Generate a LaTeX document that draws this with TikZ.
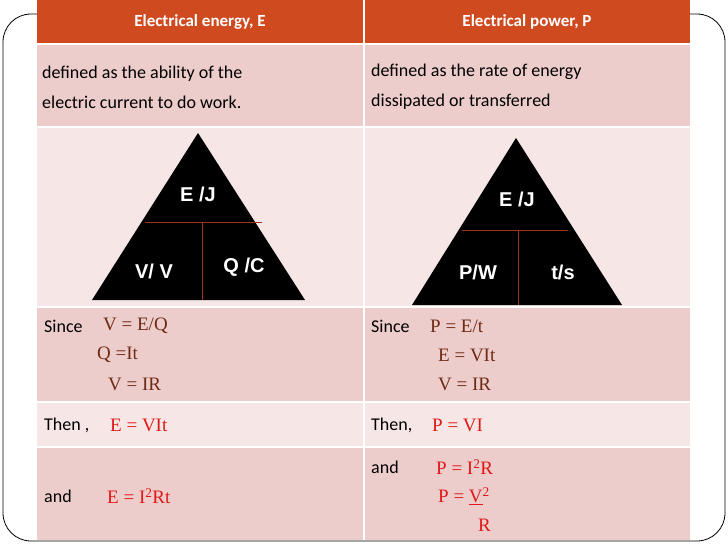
\documentclass[tikz,border=0pt]{standalone}
\usepackage{fontspec}
\setmainfont{Carlito}
\newfontfamily\tnr{Liberation Serif}
\newfontfamily\arl{Liberation Sans}
\definecolor{hdr}{HTML}{CF4A1F}
\definecolor{dk}{HTML}{EDCDCB}
\definecolor{lt}{HTML}{F6E7E6}
\definecolor{brn}{HTML}{6E2A14}
\definecolor{rd}{HTML}{E01818}
\definecolor{ln}{HTML}{A03020}
\begin{document}
\begin{tikzpicture}[x=1pt,y=-1pt,
  txt/.style={anchor=west,inner sep=0pt,font=\fontsize{18}{30}\selectfont,align=left},
  fm/.style={anchor=west,inner sep=0pt,font=\tnr\fontsize{19}{24}\selectfont},
  tri/.style={fill=black},
  tl/.style={text=white,font=\arl\bfseries\fontsize{20}{22}\selectfont,inner sep=0pt},
  sep/.style={draw=ln,line width=0.6pt}]
\useasboundingbox (0,0) rectangle (728,546);
\draw[line width=0.8pt,rounded corners=28] (3,14) rectangle (725,541);
% rows
\fill[hdr] (37,0) rectangle (690,44);
\fill[dk] (37,44) rectangle (690,127);
\fill[lt] (37,127) rectangle (690,307);
\fill[dk] (37,307) rectangle (690,402);
\fill[lt] (37,402) rectangle (690,447);
\fill[dk] (37,447) rectangle (690,540);
\foreach \y in {44,127,307,402,447} \draw[white,line width=1.2pt] (37,\y) -- (690,\y);
\draw[white,line width=1.2pt] (364,0) -- (364,540);
% header
\node[text=white,font=\bfseries\fontsize{17}{20}\selectfont] (h1) at (200,22) {Electrical energy, E};
\node[text=white,font=\bfseries\fontsize{17}{20}\selectfont] (h2) at (527,22) {Electrical power, P};
\node[txt] (d1) at (42,87) {defined as the ability of the\\electric current to do work.};
\node[txt] (d2) at (371,87) {defined as the rate of energy\\dissipated or transferred};
% triangles
\fill[tri] (198,133) -- (305,300) -- (92,300) -- cycle;
\draw[sep] (145,222) -- (262,222) (202,222) -- (202,300);
\node[tl] (e1) at (198,194) {E /J};
\node[tl] (v1) at (154,271) {V/ V};
\node[tl] (q1) at (244,267) {Q /C};
\fill[tri] (516,138) -- (622,305) -- (412,305) -- cycle;
\draw[sep] (462,230) -- (568,230) (518,230) -- (518,305);
\node[tl] (e2) at (517,199) {E /J};
\node[tl] (p2) at (478,272) {P/W};
\node[tl] (t2) at (563,272) {t/s};
% since rows
\node[txt] (s1) at (44,326) {Since};
\node[fm,text=brn] (s1a) at (103,326) {V = E/Q};
\node[fm,text=brn] (s1b) at (97,355) {Q =It};
\node[fm,text=brn] (s1c) at (108,384) {V = IR};
\node[txt] (s2) at (371,326) {Since};
\node[fm,text=brn] (s2a) at (430,326) {P = E/t};
\node[fm,text=brn] (s2b) at (438,355) {E = VIt};
\node[fm,text=brn] (s2c) at (438,384) {V = IR};
\node[txt] (t1) at (44,425) {Then ,};
\node[fm,text=rd] (t1a) at (110,425) {E = VIt};
\node[txt] (t2b) at (371,425) {Then,};
\node[fm,text=rd] (t2a) at (432,425) {P = VI};
\node[txt] (a1) at (44,496) {and};
\node[fm,text=rd] (a1a) at (107,496) {E = I\textsuperscript{2}Rt};
\node[txt] (a2) at (371,467) {and};
\node[fm,text=rd] (a2a) at (436,467) {P = I\textsuperscript{2}R};
\node[fm,text=rd] (a2b) at (438,496) {P = \underline{V}\textsuperscript{2}};
\node[fm,text=rd] (a2c) at (478,525) {R};
\end{tikzpicture}
\end{document}
